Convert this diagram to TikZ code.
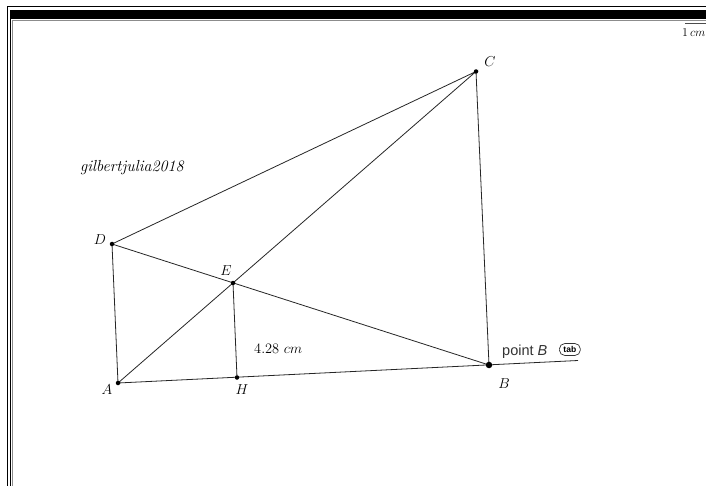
\documentclass[tikz,border=0pt]{standalone}
\usepackage{fontspec}
\newfontfamily\uisans{Liberation Sans}
\begin{document}
\begin{tikzpicture}[x=1pt,y=-1pt,
  seg/.style={line width=0.8pt,black!85},
  pt/.style={circle,fill=black,inner sep=0pt,minimum size=4.5pt},
  lbl/.style={font=\fontsize{14}{16}\selectfont,inner sep=0pt}]
\useasboundingbox (0,0) rectangle (706,486);
\fill[white] (0,0) rectangle (706,486);
% frame
\draw[line width=1pt] (7,486) -- (7,7) -- (706,7);
\fill[black] (10,10) rectangle (706,19.5);
\draw[black!45,line width=0.8pt] (12.5,486) -- (12.5,20.5) -- (706,20.5);
\draw[line width=1pt] (10.5,486) -- (10.5,19);
% scale
\draw[line width=0.7pt,black!70] (685,23.5) -- (706,23.5);
\node[lbl,anchor=base west,font=\fontsize{13}{15}\selectfont] (sc) at (682,37) {$1\,cm$};
% points
\coordinate (C) at (476,71.5);
\coordinate (D) at (112,244);
\coordinate (A) at (118,383);
\coordinate (B) at (489,365);
\coordinate (E) at (233,283);
\coordinate (H) at (237,377.5);
\coordinate (F) at (578,360.5);
\draw[seg] (A) -- (C) -- (D) -- (A);
\draw[seg] (D) -- (B) -- (C);
\draw[seg] (A) -- (F);
\draw[seg] (E) -- (H);
\node[pt] (pC) at (C) {};
\node[pt] (pD) at (D) {};
\node[pt] (pA) at (A) {};
\node[pt] (pE) at (E) {};
\node[pt] (pH) at (H) {};
\node[pt,minimum size=6.5pt] (pB) at (B) {};
% labels
\node[lbl] (lC) at (490,62) {$C$};
\node[lbl] (lD) at (100,240) {$D$};
\node[lbl] (lE) at (226,271) {$E$};
\node[lbl] (lA) at (107,390) {$A$};
\node[lbl] (lH) at (242,390) {$H$};
\node[lbl] (lB) at (504,384) {$B$};
\node[lbl,anchor=base west,font=\fontsize{15}{17}\selectfont] (len) at (254,353) {$4.28\ cm$};
\node[lbl,anchor=base west,font=\fontsize{16}{18}\selectfont\itshape] (sig) at (80,172) {gilbertjulia2018};
\node[anchor=base west,inner sep=0pt,font=\uisans\fontsize{14.5}{16}\selectfont,text=black!80] (pb) at (502,355) {point \textit{B}};
\node[draw=black!80,rounded corners=5.5pt,minimum width=21pt,minimum height=12pt,inner sep=1pt,font=\uisans\bfseries\fontsize{8.5}{9}\selectfont,anchor=west,line width=0.7pt] (tab) at (559,349.5) {tab};
\end{tikzpicture}
\end{document}
